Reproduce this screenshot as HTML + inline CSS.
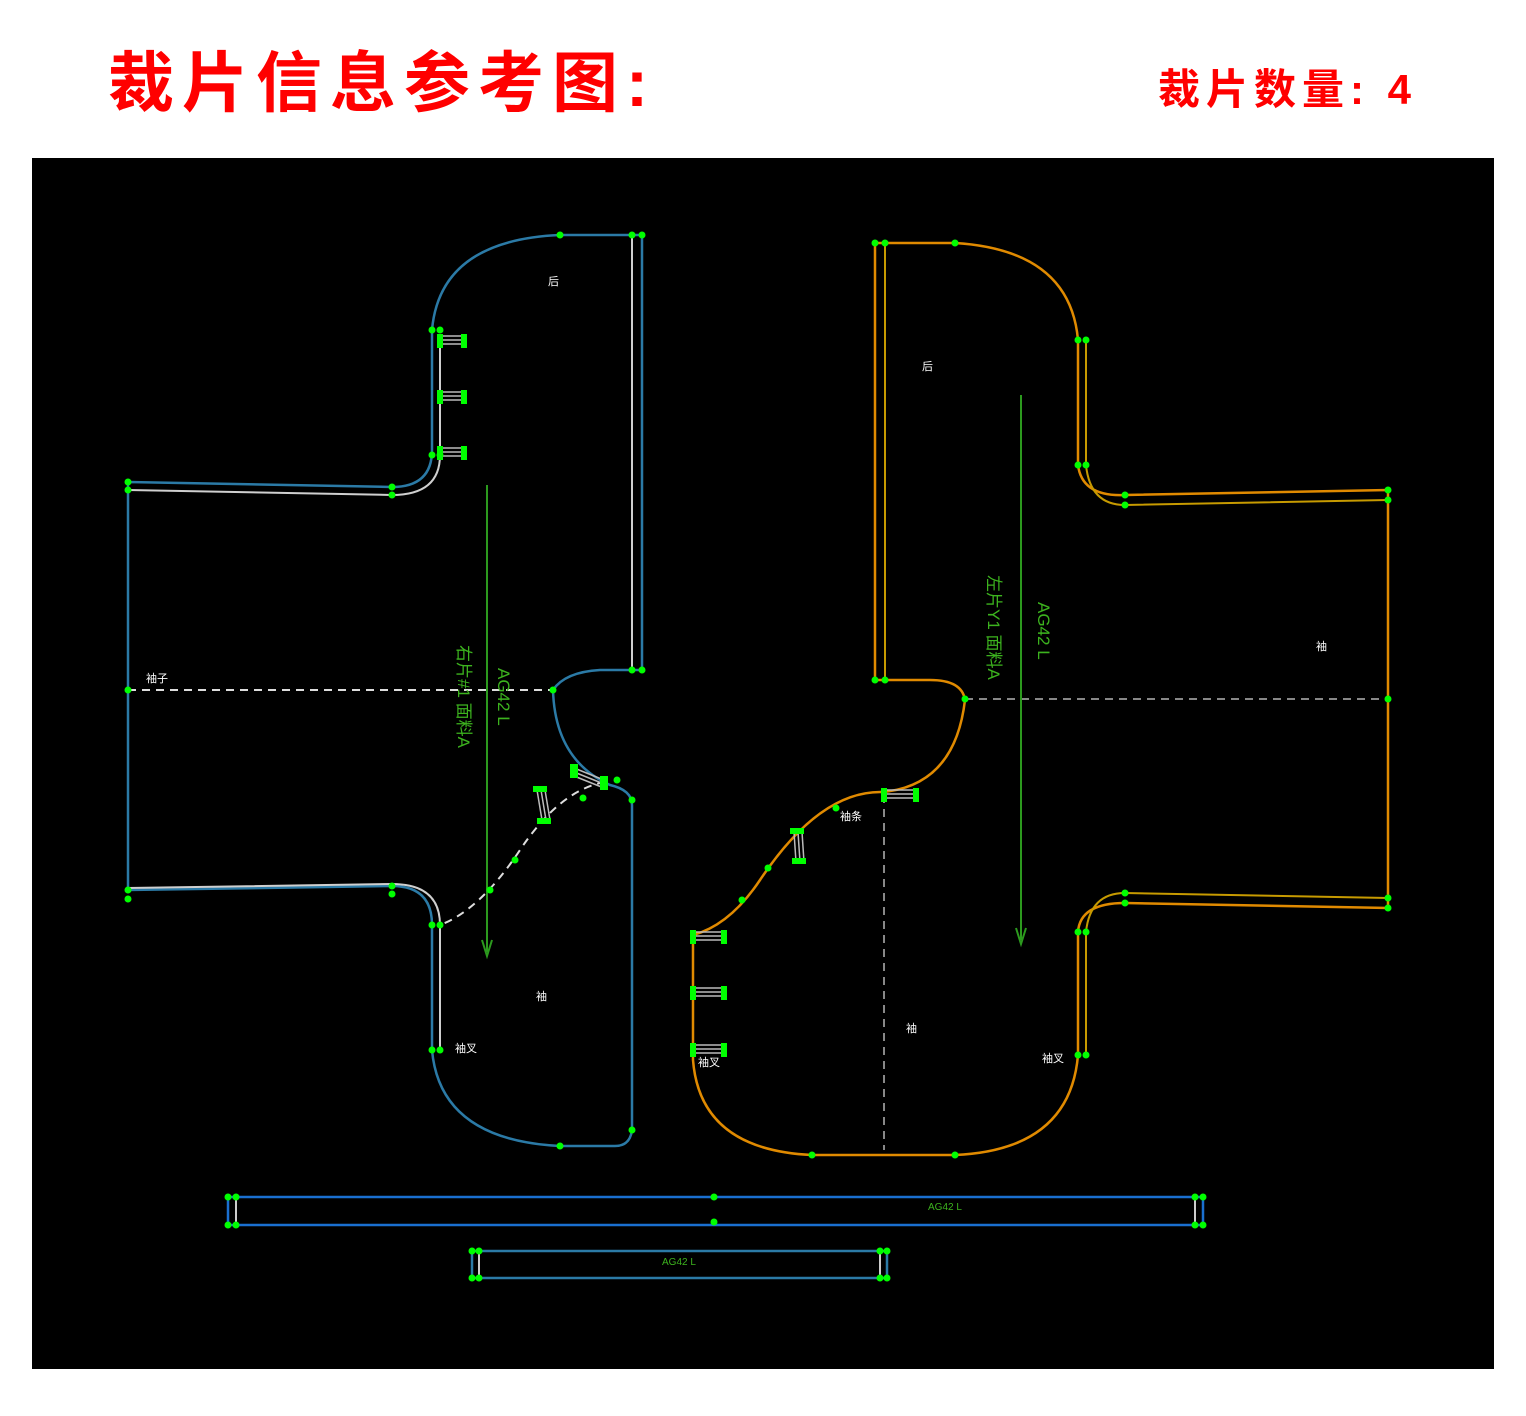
<!DOCTYPE html>
<html><head><meta charset="utf-8"><style>
html,body{margin:0;padding:0;background:#fff;width:1526px;height:1416px;overflow:hidden;position:relative}
.t1{position:absolute;left:108px;top:30px;font:bold 66px "Liberation Sans","Noto Sans CJK SC",sans-serif;color:#f00;letter-spacing:8px}
.t2{position:absolute;left:1158px;top:56px;font:bold 42px "Liberation Sans","Noto Sans CJK SC",sans-serif;color:#f00;letter-spacing:6px}
svg{position:absolute;left:0;top:0}
</style></head><body>
<div class="t1">裁片信息参考图:</div>
<div class="t2">裁片数量: 4</div>
<svg width="1526" height="1416" viewBox="0 0 1526 1416">
<rect x="32" y="158" width="1462" height="1211" fill="#000"/>
<g fill="none" stroke-width="2.5">
<path d="M128,482 L392,487 Q432,487 432,450 L432,330 Q440,240 560,235 L642,235 L642,670 L600,670 Q565,672 553,690 Q555,760 610,785 Q632,790 632,805 L632,1130 Q630,1146 615,1146 L560,1146 Q440,1140 432,1050 L432,925 Q432,886 392,886 L128,890 Z" stroke="#2b7aa6"/>
<path d="M128,490 L392,495 Q440,495 440,455 L440,335 M632,235 L632,670 M128,888 L392,884 Q440,884 440,925 L440,1050" stroke="#cfcfcf" stroke-width="2"/>
<path d="M128,690 L553,690" stroke="#ddd" stroke-dasharray="8,6" stroke-width="2"/>
<path d="M605,782 Q560,790 520,850 Q480,910 440,925" stroke="#ddd" stroke-dasharray="8,6" stroke-width="2"/>
<path d="M487,485 L487,952" stroke="#2c9a1e" stroke-width="2"/>
<path d="M482,940 L487,956 L492,940" stroke="#2c9a1e" stroke-width="2"/>
<path d="M875,243 L955,243 Q1070,250 1078,340 L1078,465 Q1082,497 1125,495 L1388,490 L1388,908 L1125,903 Q1080,903 1078,932 L1078,1055 Q1070,1150 955,1155 L812,1155 Q700,1150 693,1060 L693,935 Q730,925 760,880 Q820,790 883,792 Q955,785 965,700 Q962,680 930,680 L875,680 Z" stroke="#e08a00"/>
<path d="M885,243 L885,680 M1086,340 L1086,465 Q1090,505 1125,505 L1388,500 M1086,1055 L1086,932 Q1090,893 1125,893 L1388,898" stroke="#c69a00" stroke-width="2"/>
<path d="M965,699 L1388,699" stroke="#888" stroke-dasharray="8,6" stroke-width="2"/>
<path d="M884,795 L884,1150" stroke="#888" stroke-dasharray="8,6" stroke-width="2"/>
<path d="M1021,395 L1021,940" stroke="#2c9a1e" stroke-width="2"/>
<path d="M1016,928 L1021,944 L1026,928" stroke="#2c9a1e" stroke-width="2"/>
<rect x="228" y="1197" width="975" height="28" stroke="#1a6fd0"/>
<path d="M236,1199 L236,1223 M1195,1199 L1195,1223" stroke="#ccc" stroke-width="2"/>
<rect x="472" y="1251" width="415" height="27" stroke="#2b7aa6"/>
<path d="M479,1253 L479,1276 M880,1253 L880,1276" stroke="#ccc" stroke-width="2"/>
</g>
<g stroke="#bbb" stroke-width="1.5">
<path d="M440,336h24M440,340h24M440,344h24M440,392h24M440,396h24M440,400h24M440,448h24M440,452h24M440,456h24"/>
<path d="M693,932h30M693,936h30M693,940h30M693,988h30M693,992h30M693,996h30M693,1045h30M693,1049h30M693,1053h30"/>
<path d="M884,790h32M884,794h32M884,798h32"/>
<path d="M574,768l30,12M574,772l30,12M574,776l30,12"/>
<path d="M537,790l5,30M541,790l5,30M545,790l5,30"/>
<path d="M794,832l2,30M798,832l2,30M802,832l2,30"/>
</g>
<g fill="#0f0">
<rect x="437" y="334" width="6" height="14"/><rect x="461" y="334" width="6" height="14"/>
<rect x="437" y="390" width="6" height="14"/><rect x="461" y="390" width="6" height="14"/>
<rect x="437" y="446" width="6" height="14"/><rect x="461" y="446" width="6" height="14"/>
<rect x="690" y="930" width="6" height="14"/><rect x="721" y="930" width="6" height="14"/>
<rect x="690" y="986" width="6" height="14"/><rect x="721" y="986" width="6" height="14"/>
<rect x="690" y="1043" width="6" height="14"/><rect x="721" y="1043" width="6" height="14"/>
<rect x="881" y="788" width="6" height="14"/><rect x="913" y="788" width="6" height="14"/>
<rect x="570" y="764" width="8" height="14"/><rect x="600" y="776" width="8" height="14"/>
<rect x="533" y="786" width="14" height="6"/><rect x="537" y="818" width="14" height="6"/>
<rect x="790" y="828" width="14" height="6"/><rect x="792" y="858" width="14" height="6"/>
<circle cx="128" cy="482" r="3.5"/><circle cx="128" cy="490" r="3.5"/><circle cx="392" cy="487" r="3.5"/><circle cx="392" cy="495" r="3.5"/>
<circle cx="432" cy="455" r="3.5"/><circle cx="440" cy="455" r="3.5"/><circle cx="432" cy="330" r="3.5"/><circle cx="440" cy="330" r="3.5"/>
<circle cx="560" cy="235" r="3.5"/><circle cx="632" cy="235" r="3.5"/><circle cx="642" cy="235" r="3.5"/><circle cx="632" cy="670" r="3.5"/><circle cx="642" cy="670" r="3.5"/>
<circle cx="553" cy="690" r="3.5"/><circle cx="128" cy="690" r="3.5"/><circle cx="617" cy="780" r="3.5"/><circle cx="632" cy="800" r="3.5"/>
<circle cx="632" cy="1130" r="3.5"/><circle cx="560" cy="1146" r="3.5"/><circle cx="432" cy="1050" r="3.5"/><circle cx="440" cy="1050" r="3.5"/>
<circle cx="432" cy="925" r="3.5"/><circle cx="440" cy="925" r="3.5"/><circle cx="392" cy="886" r="3.5"/><circle cx="392" cy="894" r="3.5"/><circle cx="128" cy="890" r="3.5"/><circle cx="128" cy="899" r="3.5"/>
<circle cx="490" cy="890" r="3.5"/><circle cx="515" cy="860" r="3.5"/><circle cx="583" cy="798" r="3.5"/>
<circle cx="875" cy="243" r="3.5"/><circle cx="885" cy="243" r="3.5"/><circle cx="955" cy="243" r="3.5"/><circle cx="1078" cy="340" r="3.5"/><circle cx="1086" cy="340" r="3.5"/>
<circle cx="1078" cy="465" r="3.5"/><circle cx="1086" cy="465" r="3.5"/><circle cx="1125" cy="495" r="3.5"/><circle cx="1125" cy="505" r="3.5"/><circle cx="1388" cy="490" r="3.5"/><circle cx="1388" cy="500" r="3.5"/>
<circle cx="1388" cy="699" r="3.5"/><circle cx="1388" cy="898" r="3.5"/><circle cx="1388" cy="908" r="3.5"/><circle cx="1125" cy="893" r="3.5"/><circle cx="1125" cy="903" r="3.5"/>
<circle cx="1078" cy="932" r="3.5"/><circle cx="1086" cy="932" r="3.5"/><circle cx="1078" cy="1055" r="3.5"/><circle cx="1086" cy="1055" r="3.5"/>
<circle cx="955" cy="1155" r="3.5"/><circle cx="812" cy="1155" r="3.5"/><circle cx="875" cy="680" r="3.5"/><circle cx="885" cy="680" r="3.5"/><circle cx="965" cy="699" r="3.5"/>
<circle cx="836" cy="808" r="3.5"/><circle cx="768" cy="868" r="3.5"/><circle cx="742" cy="900" r="3.5"/>
<circle cx="228" cy="1197" r="3.5"/><circle cx="236" cy="1197" r="3.5"/><circle cx="228" cy="1225" r="3.5"/><circle cx="236" cy="1225" r="3.5"/>
<circle cx="1195" cy="1197" r="3.5"/><circle cx="1203" cy="1197" r="3.5"/><circle cx="1195" cy="1225" r="3.5"/><circle cx="1203" cy="1225" r="3.5"/><circle cx="714" cy="1197" r="3.5"/><circle cx="714" cy="1222" r="3.5"/>
<circle cx="472" cy="1251" r="3.5"/><circle cx="479" cy="1251" r="3.5"/><circle cx="472" cy="1278" r="3.5"/><circle cx="479" cy="1278" r="3.5"/>
<circle cx="880" cy="1251" r="3.5"/><circle cx="887" cy="1251" r="3.5"/><circle cx="880" cy="1278" r="3.5"/><circle cx="887" cy="1278" r="3.5"/>
</g>
<g font-family="Liberation Sans,Noto Sans CJK SC,sans-serif" fill="#3cb31e" font-size="17">
<text transform="translate(458,645) rotate(90)">右片#1  面料A</text>
<text transform="translate(498,668) rotate(90)">AG42  L</text>
<text transform="translate(988,575) rotate(90)">左片Y1  面料A</text>
<text transform="translate(1038,602) rotate(90)">AG42  L</text>
<text x="928" y="1210" font-size="10">AG42 L</text>
<text x="662" y="1265" font-size="10">AG42 L</text>
</g>
<g font-family="Liberation Sans,Noto Sans CJK SC,sans-serif" fill="#fff" font-size="11">
<text x="146" y="682">袖子</text><text x="548" y="285">后</text><text x="536" y="1000">袖</text><text x="455" y="1052">袖叉</text>
<text x="922" y="370">后</text><text x="1316" y="650">袖</text><text x="906" y="1032">袖</text><text x="1042" y="1062">袖叉</text><text x="840" y="820">袖条</text><text x="698" y="1066">袖叉</text>
</g>
</svg>
</body></html>
